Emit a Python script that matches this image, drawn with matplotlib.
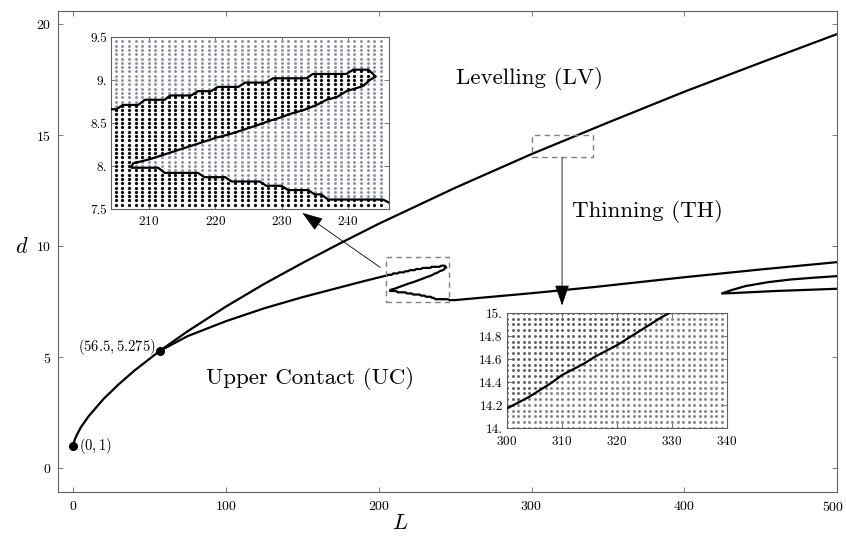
import numpy as np
import matplotlib
matplotlib.use("Agg")
import matplotlib.pyplot as plt
from matplotlib.transforms import ScaledTranslation

plt.rcParams["font.family"] = ["cmr10", "DejaVu Serif"]
plt.rcParams["mathtext.fontset"] = "cm"
plt.rcParams["axes.formatter.use_mathtext"] = True

# ---- data ----------------------------------------------------------------
# LV / UC boundary (upper curve)
upper_L = [0, 0.5, 1, 2, 5, 10, 20, 30, 40, 56.5, 75, 100, 125, 150, 175, 200, 250, 300, 350, 400, 450, 500]
upper_d = [1.0, 1.18, 1.28, 1.45, 1.84, 2.33, 3.13, 3.79, 4.39, 5.275, 6.17, 7.28, 8.30, 9.24, 10.14, 11.01,
           12.63, 14.15, 15.57, 16.96, 18.27, 19.56]

# UC / TH boundary, part before the fold
lower_L = [56.5, 75, 100, 125, 150, 175, 190, 204.1]
lower_d = [5.275, 5.95, 6.62, 7.2, 7.7, 8.15, 8.42, 8.66]

# fold: upper arm (staircase), lower arm, lower line (staircase)
arm_up_L = [204.1, 205.1, 206.1, 208.4, 209.4, 212.4, 213.2, 216.4, 217.4, 219.4, 220.4, 223.5, 224.5, 227.7,
            228.7, 233.8, 234.7, 239.8, 240.8, 243.1]
arm_up_d = [8.66, 8.66, 8.71, 8.71, 8.77, 8.77, 8.82, 8.82, 8.87, 8.87, 8.92, 8.92, 8.97, 8.97,
            9.02, 9.02, 9.07, 9.07, 9.12, 9.12]
fold_tip = (244.2, 9.04)
arm_low_L = [243.3, 242.3, 239.8, 238.3, 236.8, 235.3, 233.3, 231.5, 229.7, 228.0, 226.2, 224.2, 222.2, 220.2,
             218.2, 216.2, 214.2, 212.2, 210.2, 207.6]
arm_low_d = [9.0, 8.93, 8.87, 8.8, 8.77, 8.71, 8.65, 8.61, 8.56, 8.52, 8.47, 8.42, 8.37, 8.33,
             8.28, 8.23, 8.18, 8.13, 8.08, 8.03]
line_low_L = [207.4, 211.4, 212.4, 217.4, 218.4, 221.5, 222.5, 226.7, 227.7, 230.0, 231.0, 234.0, 235.0, 236.0,
              237.0, 245.3, 246.3]
line_low_d = [7.98, 7.98, 7.92, 7.92, 7.87, 7.87, 7.82, 7.82, 7.77, 7.77, 7.72, 7.72, 7.67, 7.67,
              7.61, 7.61, 7.57]

# UC / TH boundary after the fold
tail_L = [250, 300, 340, 400, 450, 500]
tail_d = [7.57, 7.88, 8.15, 8.6, 8.95, 9.28]

# small loop on the right
loop_up_L = [424.7, 430, 440, 455, 470, 485, 500]
loop_up_d = [7.87, 8.0, 8.2, 8.38, 8.5, 8.58, 8.65]
loop_low_L = [424.7, 430, 445, 460, 480, 500]
loop_low_d = [7.87, 7.88, 7.93, 7.98, 8.03, 8.08]

# zoom on the upper curve (second inset)
zoom_L = [300, 302, 304, 306, 308, 310, 312, 314, 316, 318, 320, 322, 324, 326, 328, 329.5]
zoom_d = [14.17, 14.22, 14.27, 14.33, 14.39, 14.46, 14.51, 14.56, 14.62, 14.67, 14.72, 14.78, 14.84, 14.9, 14.96, 15.0]

points = [(0, 1), (56.5, 5.275)]
point_labels = ["$(0,1)$", "$(56.5,5.275)$"]

region_names = ["Levelling (LV)", "Thinning (TH)", "Upper Contact (UC)"]
region_pos = [(299, 17.55), (376, 11.55), (155, 4.03)]

box1 = (205, 246, 7.5, 9.5)
box2 = (300, 340, 14.0, 15.0)

# sample grids shown in the insets
grid1_L = np.arange(205, 246, 1.0)
grid1_d = np.arange(7.55, 9.46, 0.05)
grid2_L = np.arange(300, 340, 1.0)
grid2_d = np.arange(14.0, 15.01, 0.05)

# ---- figure ------------------------------------------------------------
W, H = 846, 539
fig = plt.figure(figsize=(W / 100, H / 100), dpi=100)
spine_col = "#606060"


def px_axes(x0, y0, x1, y1):
    return fig.add_axes([x0 / W, 1 - y1 / H, (x1 - x0) / W, (y1 - y0) / H])


def style(ax, size=10):
    for s in ax.spines.values():
        s.set_color(spine_col)
        s.set_linewidth(0.8)
    ax.tick_params(direction="in", length=3.5, width=0.6, color=spine_col, top=True, right=True,
                   labelsize=size, pad=3)


ax = px_axes(58, 11, 837, 492)
style(ax)
ax.set_xlim(-10, 500)
ax.set_ylim(-1.08, 20.6)
ax.set_xticks([0, 100, 200, 300, 400, 500])
ax.set_yticks([0, 5, 10, 15, 20])
ax.tick_params(axis="x", pad=6)
ax.tick_params(axis="y", pad=5)

lw = 1.6
ax.plot(upper_L, upper_d, color="black", lw=lw)
fold_L = lower_L + arm_up_L + [fold_tip[0]] + arm_low_L + line_low_L + tail_L
fold_d = lower_d + arm_up_d + [fold_tip[1]] + arm_low_d + line_low_d + tail_d
ax.plot(fold_L, fold_d, color="black", lw=lw, solid_joinstyle="round")
ax.plot(loop_up_L[::-1] + loop_low_L[1:], loop_up_d[::-1] + loop_low_d[1:], color="black", lw=lw)

for (x, y) in points:
    ax.plot(x, y, "o", color="black", ms=5.5, zorder=5)
ax.text(4, 1.0, point_labels[0], fontsize=10.5, ha="left", va="center")
ax.text(54, 5.45, point_labels[1], fontsize=10.5, ha="right", va="center")

for name, (x, y) in zip(region_names, region_pos):
    ax.text(x, y, name, fontsize=16.5, ha="center", va="center")

for (x0, x1, y0, y1) in (box1, box2):
    ax.plot([x0, x1, x1, x0, x0], [y0, y0, y1, y1, y0], color="#808080", lw=1.0, ls=(0, (4, 3)))

arrow_kw = dict(arrowstyle="-|>,head_length=1.3,head_width=0.45", color="black",
                lw=0.6, shrinkA=0, shrinkB=0)
ax.annotate("", xy=(150, 11.5), xytext=(201, 9.04), arrowprops=arrow_kw)
ax.annotate("", xy=(320, 7.33), xytext=(320, 14.0), arrowprops=arrow_kw)

fig.text(400 / W, 1 - 523 / H, "$L$", fontsize=16, ha="center", va="center")
fig.text(22 / W, 1 - 247 / H, "$d$", fontsize=16, ha="center", va="center")

# keep the last x tick label inside the canvas
fig.canvas.draw()
last = ax.get_xticklabels()[-1]
last.set_transform(last.get_transform() + ScaledTranslation(-4 / 100, 0, fig.dpi_scale_trans))

# ---- inset 1: the fold ---------------------------------------------------
ax1 = px_axes(111, 37, 389, 209)
style(ax1, 9.5)
ax1.set_xlim(204.3, 246.2)
ax1.set_ylim(7.5, 9.5)
ax1.set_xticks([210, 220, 230, 240])
ax1.set_yticks([7.5, 8.0, 8.5, 9.0, 9.5])
ax1.set_yticklabels(["7.5", "8.", "8.5", "9.", "9.5"])
ax1.tick_params(axis="x", pad=4)

GL, GD = np.meshgrid(grid1_L, grid1_d)
up = np.interp(GL, arm_up_L + [fold_tip[0]], arm_up_d + [fold_tip[1]])
low = np.interp(GL, arm_low_L[::-1], arm_low_d[::-1])
base = np.interp(GL, line_low_L, line_low_d)
inside = (GD < base) | ((GD < up) & ((GL < 207.5) | (GD > low)) & (GL <= fold_tip[0]))
ax1.scatter(GL[~inside], GD[~inside], s=4.5, color="#8c93a0", linewidths=0, zorder=2)
ax1.scatter(GL[inside], GD[inside], s=5.5, color="#0a0a0a", linewidths=0, zorder=2)
ax1.plot(arm_up_L + [fold_tip[0]] + arm_low_L + line_low_L, arm_up_d + [fold_tip[1]] + arm_low_d + line_low_d,
         color="black", lw=1.6, zorder=3)

# ---- inset 2: the upper curve ------------------------------------------
ax2 = px_axes(507, 313, 727, 428)
style(ax2, 9.5)
ax2.set_xlim(300, 340)
ax2.set_ylim(14.0, 15.0)
ax2.set_xticks([300, 310, 320, 330, 340])
ax2.set_yticks([14.0, 14.2, 14.4, 14.6, 14.8, 15.0])
ax2.set_yticklabels(["14.", "14.2", "14.4", "14.6", "14.8", "15."])
ax2.tick_params(axis="x", pad=5)

GL2, GD2 = np.meshgrid(grid2_L, grid2_d)
above = GD2 > np.interp(GL2, zoom_L, zoom_d, right=99)
ax2.scatter(GL2[above], GD2[above], s=4.5, color="#5e5e5e", linewidths=0, zorder=2)
ax2.scatter(GL2[~above], GD2[~above], s=4.5, color="#858585", linewidths=0, zorder=2)
ax2.plot(zoom_L, zoom_d, color="black", lw=1.6, zorder=3)

fig.savefig("out.png", dpi=100)
